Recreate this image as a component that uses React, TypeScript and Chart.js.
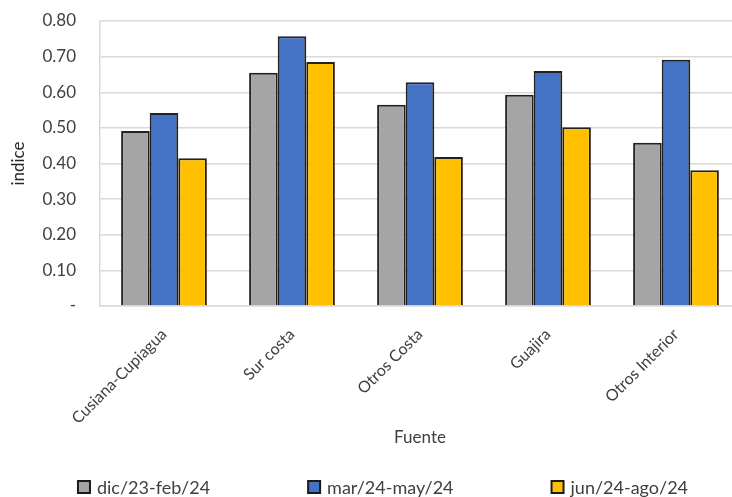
import React, { useEffect, useRef } from "react";
import { Chart, registerables } from "chart.js";

Chart.register(...registerables);

const categories = ["Cusiana-Cupiagua", "Sur costa", "Otros Costa", "Guajira", "Otros Interior"];
const periods = ["dic/23-feb/24", "mar/24-may/24", "jun/24-ago/24"];
const decFeb = [0.491, 0.655, 0.565, 0.593, 0.458];
const marMay = [0.542, 0.757, 0.628, 0.66, 0.691];
const junAgo = [0.415, 0.685, 0.418, 0.502, 0.381];
const colors = ["#a5a5a5", "#4472c4", "#ffc000"];
const yTicks = [0, 0.1, 0.2, 0.3, 0.4, 0.5, 0.6, 0.7, 0.8];

const FONT = "Lato, 'Open Sans', sans-serif";
const TEXT = "#404040";

// Legend spread out along the bottom, with wide gaps between entries
const spreadLegend = {
  id: "spreadLegend",
  afterDraw(chart: any) {
    const ctx = chart.ctx;
    const ds = chart.data.datasets;
    const box = 12;
    const gapBoxText = 7;
    const gapItems = 98;
    ctx.save();
    ctx.font = `18px ${FONT}`;
    const widths = ds.map((d: any) => box + gapBoxText + ctx.measureText(d.label).width);
    const total = widths.reduce((a: number, b: number) => a + b, 0) + gapItems * (ds.length - 1);
    let x = 383 - total / 2;
    const y = 487;
    ds.forEach((d: any, i: number) => {
      ctx.fillStyle = d.backgroundColor;
      ctx.fillRect(x, y - box / 2, box, box);
      ctx.strokeStyle = "#1a1a1a";
      ctx.lineWidth = 2;
      ctx.strokeRect(x, y - box / 2, box, box);
      ctx.fillStyle = TEXT;
      ctx.textBaseline = "middle";
      ctx.textAlign = "left";
      ctx.fillText(d.label, x + box + gapBoxText, y + 1);
      x += widths[i] + gapItems;
    });
    ctx.restore();
  },
};

export default function App() {
  const ref = useRef<HTMLCanvasElement>(null);

  useEffect(() => {
    if (!ref.current) return;
    const series = [decFeb, marMay, junAgo];
    const chart = new Chart(ref.current, {
      type: "bar",
      data: {
        labels: categories,
        datasets: periods.map((p, i) => ({
          label: p,
          data: series[i],
          backgroundColor: colors[i],
          borderColor: "#222222",
          borderWidth: 2,
          categoryPercentage: 0.67,
          barPercentage: 1,
        })),
      },
      options: {
        responsive: false,
        animation: false,
        layout: { padding: { top: 21, right: 12, bottom: 45, left: 0 } },
        plugins: {
          legend: { display: false },
          tooltip: { enabled: false },
        },
        scales: {
          x: {
            grid: { display: false, drawTicks: false },
            border: { display: true, color: "#d9d9d9", width: 1.5 },
            ticks: {
              color: TEXT,
              font: { family: FONT, size: 16 },
              minRotation: 45,
              maxRotation: 45,
              padding: 19,
            },
            title: {
              display: true,
              text: "Fuente",
              color: TEXT,
              font: { family: FONT, size: 17 },
              padding: { top: 4, bottom: 4 },
            },
            afterFit: (s: any) => {
              s.height = 146;
            },
          },
          y: {
            min: 0,
            max: 0.8,
            afterBuildTicks: (s: any) => {
              s.ticks = yTicks.map((v) => ({ value: v }));
            },
            grid: { color: "#d9d9d9", lineWidth: 1.5, drawTicks: false },
            border: { display: true, color: "#d9d9d9", width: 1.5 },
            ticks: {
              color: TEXT,
              font: { family: FONT, size: 17 },
              padding: 24,
              callback: (v: any) => (Number(v) === 0 ? "-" : Number(v).toFixed(2)),
            },
            title: {
              display: true,
              text: "indice",
              color: "#262626",
              font: { family: FONT, size: 17 },
              padding: { top: 8, bottom: 0 },
            },
            afterFit: (s: any) => {
              s.width = 100;
              s.paddingTop = 0;
              s.paddingBottom = 0;
            },
          },
        },
      },
      plugins: [spreadLegend],
    });
    return () => chart.destroy();
  }, []);

  return (
    <div style={{ position: "fixed", left: 0, top: 0, width: 732, height: 497, overflow: "hidden", background: "#fff" }}>
      <canvas ref={ref} width={752} height={497} />
    </div>
  );
}
